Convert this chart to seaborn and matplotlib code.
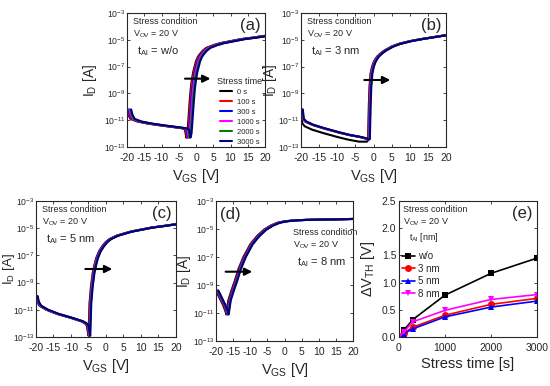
import numpy as np
import pandas as pd
import matplotlib
matplotlib.use('Agg')
import matplotlib.pyplot as plt
import seaborn as sns

# Stress times and colours (panels a-d)
stress_times = ['0 s', '100 s', '300 s', '1000 s', '2000 s', '3000 s']
time_colors = ['#000000', '#ff0000', '#0000ff', '#ff00ff', '#008000', '#000080']

# Panel (a): t_Al = w/o, base transfer curve (log10 I_D) and V_TH shift per stress time
a_vgs = [-20, -19.6, -19, -17, -14, -10, -7, -4, -3.2, -2.8, -2.5, -2.1, -1.8, -1.5, -1.2,
         -0.8, -0.4, 0, 0.5, 1, 2, 3, 5, 7, 10, 13, 16, 20]
a_log = [-10.2, -10.6, -10.9, -11.1, -11.25, -11.4, -11.5, -11.6, -11.7, -12.3, -12.0, -10.6,
         -9.5, -8.6, -8.0, -7.4, -7.0, -6.6, -6.3, -6.1, -5.8, -5.6, -5.4, -5.25, -5.1, -4.95,
         -4.85, -4.7]
a_shift = [0, 0.2, 0.45, 0.7, 0.95, 1.2]

# Panel (b): t_Al = 3 nm
b_vgs = [-20, -19.7, -19, -17, -14, -10, -7, -4, -2.5, -1.8, -1.5, -1.3, -1.1, -0.8, -0.4, 0,
         0.5, 1, 2, 3, 5, 7, 10, 13, 16, 20]
b_log = [-10.2, -10.9, -11.1, -11.35, -11.6, -11.9, -12.1, -12.25, -12.35, -12.45, -12.4,
         -10.0, -8.5, -7.5, -7.0, -6.7, -6.45, -6.25, -6.0, -5.8, -5.5, -5.3, -5.1, -4.95,
         -4.82, -4.65]
b_log_0s = [-10.4, -11.2, -11.45, -11.7, -11.95, -12.25, -12.45, -12.6, -12.6, -12.6, -12.5,
            -10.0, -8.5, -7.5, -7.0, -6.7, -6.45, -6.25, -6.0, -5.8, -5.5, -5.3, -5.1, -4.95,
            -4.82, -4.65]
b_shift = [0, 0.1, 0.2, 0.3, 0.4, 0.5]

# Panel (c): t_Al = 5 nm
c_vgs = [-20, -19.7, -19, -17, -14, -10, -7, -6, -5.5, -5.2, -5.0, -4.7, -4.3, -3.8, -3.3,
         -2.8, -2, -1, 0, 1, 3, 5, 7, 10, 13, 16, 20]
c_log = [-10.0, -10.4, -10.7, -11.0, -11.3, -11.6, -11.85, -12.0, -12.15, -12.6, -12.9, -10.5,
         -9.3, -8.3, -7.7, -7.2, -6.7, -6.3, -6.0, -5.8, -5.55, -5.4, -5.25, -5.1, -4.95,
         -4.85, -4.7]
c_shift = [0, 0.1, 0.2, 0.3, 0.4, 0.5]

# Panel (d): t_Al = 8 nm
d_vgs = [-20, -19, -18, -17.2, -17.0, -16.7, -16.4, -15.5, -14.5, -13.5, -12, -10, -8, -6, -4,
         -2, 0, 3, 6, 10, 15, 20]
d_log = [-9.4, -9.9, -10.4, -10.9, -11.1, -10.6, -10.1, -9.4, -8.7, -7.9, -7.0, -6.1, -5.5,
         -5.05, -4.75, -4.55, -4.45, -4.38, -4.35, -4.33, -4.31, -4.28]
d_shift = [0, 0.2, 0.35, 0.5, 0.6, 0.7]

# Panel (e): delta V_TH vs stress time
e_time = [0, 100, 300, 1000, 2000, 3000]
e_wo = [0.0, 0.12, 0.32, 0.77, 1.17, 1.45]
e_3nm = [0.0, 0.07, 0.18, 0.40, 0.60, 0.71]
e_5nm = [0.0, 0.06, 0.15, 0.37, 0.55, 0.66]
e_8nm = [0.0, 0.09, 0.28, 0.49, 0.69, 0.78]
e_labels = ['w/o', '3 nm', '5 nm', '8 nm']
e_colors = ['#000000', '#ff0000', '#0000ff', '#ff00ff']
e_markers = ['s', 'o', '^', 'v']

sns.set_style('ticks')
plt.rcParams['font.family'] = ['Liberation Sans', 'DejaVu Sans']
plt.rcParams['mathtext.fontset'] = 'custom'
plt.rcParams['mathtext.rm'] = 'Liberation Sans'
plt.rcParams['mathtext.it'] = 'Liberation Sans'
plt.rcParams['axes.unicode_minus'] = False


def transfer_df(vgs, logid, shifts, first_log=None):
    rows = []
    for i, (t, dv) in enumerate(zip(stress_times, shifts)):
        y = first_log if (i == 0 and first_log is not None) else logid
        for v, l in zip(vgs, y):
            rows.append((v + dv, 10.0 ** l, t))
    return pd.DataFrame(rows, columns=['VGS', 'ID', 'time'])


W, H = 550, 386
fig = plt.figure(figsize=(5.5, 3.86), dpi=100)


def axes_px(left, top, right, bottom):
    return fig.add_axes([left / W, 1 - bottom / H, (right - left) / W, (bottom - top) / H])


def style_axes(ax):
    ax.tick_params(direction='in', length=2, width=0.6, top=True, right=True, labelsize=7.5, pad=2)
    for s in ax.spines.values():
        s.set_linewidth(0.8)


def transfer_panel(ax, df, arrow, ylab_x, show_legend=False, ylab_size=10):
    sns.lineplot(data=df, x='VGS', y='ID', hue='time', hue_order=stress_times,
                 palette=time_colors, sort=False, estimator=None, lw=1.5, ax=ax,
                 legend=show_legend)
    ax.set_yscale('log')
    ax.set_xlim(-20, 20)
    ax.set_ylim(1e-13, 1e-3)
    ax.set_xticks([-20, -15, -10, -5, 0, 5, 10, 15, 20])
    ax.set_yticks([1e-13, 1e-11, 1e-9, 1e-7, 1e-5, 1e-3])
    ax.yaxis.set_minor_locator(matplotlib.ticker.NullLocator())
    ax.set_xlabel('V$_{GS}$ [V]', fontsize=10.5, labelpad=3)
    ax.set_ylabel('I$_D$ [A]', fontsize=ylab_size)
    ax.yaxis.set_label_coords(ylab_x, 0.5)
    style_axes(ax)
    ax.tick_params(axis='x', labelsize=7.5, pad=4.5)
    ax.tick_params(axis='y', labelsize=6.2, pad=1)
    x0, x1, ly = arrow
    ax.annotate('', xy=(x1, 10.0 ** ly), xytext=(x0, 10.0 ** ly),
                arrowprops=dict(arrowstyle='-|>', color='k', lw=1.5, mutation_scale=11))


def condition_text(ax, x, y, tal):
    ax.text(x, y, 'Stress condition', transform=ax.transAxes, fontsize=6.5, va='top')
    ax.text(x, y - 0.085, 'V$_{OV}$ = 20 V', transform=ax.transAxes, fontsize=6.5, va='top')
    ax.text(x + 0.03, y - 0.2, 't$_{Al}$ = ' + tal, transform=ax.transAxes, fontsize=8, va='top')


# (a)
ax_a = axes_px(127, 13, 265, 147)
transfer_panel(ax_a, transfer_df(a_vgs, a_log, a_shift), (-4, 5.0, -7.9), -0.2, show_legend=True)
h, l = ax_a.get_legend_handles_labels()
ax_a.legend(h, l, title='Stress time', loc='lower right', bbox_to_anchor=(1.02, -0.03),
            frameon=False, fontsize=5.5, title_fontsize=6.5, handlelength=1.6, labelspacing=0.35,
            handletextpad=0.6, borderpad=0.2)
condition_text(ax_a, 0.04, 0.97, 'w/o')
ax_a.text(0.97, 0.96, '(a)', transform=ax_a.transAxes, fontsize=12, ha='right', va='top')

# (b)
ax_b = axes_px(301, 13, 446, 147)
transfer_panel(ax_b, transfer_df(b_vgs, b_log, b_shift, b_log_0s), (-3.3, 5.4, -8.0), -0.15)
condition_text(ax_b, 0.04, 0.97, '3 nm')
ax_b.text(0.97, 0.96, '(b)', transform=ax_b.transAxes, fontsize=12, ha='right', va='top')

# (c)
ax_c = axes_px(36, 201, 176, 337)
transfer_panel(ax_c, transfer_df(c_vgs, c_log, c_shift), (-6.7, 2.6, -8.0), -0.135, ylab_size=9.5)
condition_text(ax_c, 0.04, 0.97, '5 nm')
ax_c.text(0.97, 0.96, '(c)', transform=ax_c.transAxes, fontsize=12, ha='right', va='top')

# (d)
ax_d = axes_px(216, 201, 353, 341)
transfer_panel(ax_d, transfer_df(d_vgs, d_log, d_shift), (-18.0, -8.6, -8.05), -0.17)
condition_text(ax_d, 0.56, 0.81, '8 nm')
ax_d.text(0.03, 0.96, '(d)', transform=ax_d.transAxes, fontsize=12, ha='left', va='top')

# (e)
ax_e = axes_px(399, 201, 537, 337)
df_e = pd.DataFrame({
    'time': e_time * 4,
    'dvth': e_wo + e_3nm + e_5nm + e_8nm,
    'tal': [lab for lab in e_labels for _ in e_time],
})
sns.lineplot(data=df_e, x='time', y='dvth', hue='tal', style='tal', hue_order=e_labels,
             style_order=e_labels, palette=e_colors, markers=dict(zip(e_labels, e_markers)),
             dashes=False, markersize=5, markeredgewidth=0, lw=1.2, ax=ax_e)
ax_e.set_xlim(0, 3000)
ax_e.set_ylim(0, 2.5)
ax_e.set_xticks([0, 1000, 2000, 3000])
ax_e.set_yticks([0, 0.5, 1.0, 1.5, 2.0, 2.5])
ax_e.yaxis.set_major_formatter(matplotlib.ticker.FormatStrFormatter('%.1f'))
ax_e.set_xlabel('Stress time [s]', fontsize=10.5, labelpad=3)
ax_e.set_ylabel('$\\Delta$V$_{TH}$ [V]', fontsize=10.5)
ax_e.yaxis.set_label_coords(-0.16, 0.5)
style_axes(ax_e)
ax_e.tick_params(axis='x', pad=4.5)
h, l = ax_e.get_legend_handles_labels()
ax_e.legend(h, l, loc='upper left', bbox_to_anchor=(-0.03, 0.68), frameon=False, fontsize=7,
            handlelength=1.4, labelspacing=0.25, handletextpad=0.3, borderpad=0.2)
ax_e.text(0.03, 0.97, 'Stress condition', transform=ax_e.transAxes, fontsize=6.5, va='top')
ax_e.text(0.03, 0.885, 'V$_{OV}$ = 20 V', transform=ax_e.transAxes, fontsize=6.5, va='top')
ax_e.text(0.07, 0.78, 't$_{Al}$ [nm]', transform=ax_e.transAxes, fontsize=6.5, va='top')
ax_e.text(0.97, 0.96, '(e)', transform=ax_e.transAxes, fontsize=12, ha='right', va='top')

fig.savefig('out.png', dpi=100)
